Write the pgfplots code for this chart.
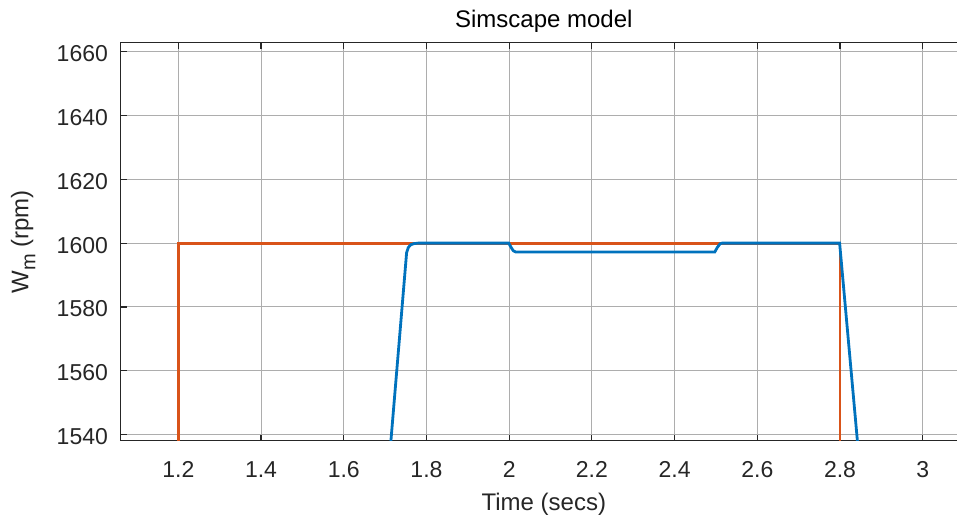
\documentclass[border=0pt]{standalone}
\usepackage{pgfplots}
\pgfplotsset{compat=1.18}
\usepackage{fontspec}
\setmainfont{Liberation Sans}

\definecolor{mlblue}{HTML}{0072BD}
\definecolor{mlorange}{HTML}{D95319}
\definecolor{axgray}{HTML}{262626}

\begin{document}
\begin{tikzpicture}
\begin{axis}[
  name=ax,
  at={(0,0)}, anchor=south west,
  scale only axis,
  width=423.15pt, height=199pt,
  xmin=1.0607, xmax=3.107,
  ymin=1538.1, ymax=1662.8,
  xtick={1.2,1.4,1.6,1.8,2.0,2.2,2.4,2.6,2.8,3.0},
  xticklabels={1.2,1.4,1.6,1.8,2,2.2,2.4,2.6,2.8,3},
  ytick={1540,1560,1580,1600,1620,1640,1660},
  yticklabels={1540,1560,1580,1600,1620,1640,1660},
  tick align=inside,
  major tick length=3pt,
  tick style={axgray, line width=0.6pt},
  axis line style={axgray, line width=0.6pt},
  grid=major,
  major grid style={black!32, line width=0.5pt},
  /pgf/number format/assume math mode=true,
  ticklabel style={font=\fontsize{11.5}{13}\selectfont, text=axgray},
  xticklabel style={anchor=center, inner sep=0pt, yshift=-14.6pt},
  yticklabel style={anchor=east, inner sep=0pt, xshift=-6.2pt, yshift=-1pt},
  xlabel={Time (secs)},
  xlabel style={at={(axis description cs:0.5,-0.1600)}, anchor=center,
                font=\fontsize{12}{14}\selectfont, text=axgray, inner sep=0pt},
  ylabel={W\raisebox{-0.55ex}{\fontsize{10}{12}\selectfont m} (rpm)},
  ylabel style={at={(axis description cs:-0.1153,0.5)}, anchor=center,
                font=\fontsize{12}{14}\selectfont, text=axgray, inner sep=0pt},
]
% reference speed
\addplot[mlorange, line width=1.4pt] coordinates {
  (1.2,1500) (1.2,1600) (2.8,1600) (2.8,1500)
};
% measured rotor speed
\addplot[mlblue, line width=1.4pt] coordinates {
  (1.7024,1520) (1.714,1538) (1.752,1597.0) (1.756,1598.6) (1.762,1599.5)
  (1.770,1599.85) (1.780,1600) (1.999,1600) (2.004,1598.8) (2.010,1597.6)
  (2.016,1597.2) (2.497,1597.2) (2.503,1598.6) (2.510,1599.8) (2.515,1600)
  (2.799,1600) (2.842,1538) (2.854,1520)
};
\end{axis}
% plot title
\node[anchor=center, inner sep=0pt, font=\fontsize{12}{14}\selectfont, yshift=10.6pt]
  at (ax.north) {Simscape model};
\pgfresetboundingbox
\path[use as bounding box] (-60.35pt,-39.15pt) rectangle (418.15pt,220.35pt);
\end{tikzpicture}
\end{document}
